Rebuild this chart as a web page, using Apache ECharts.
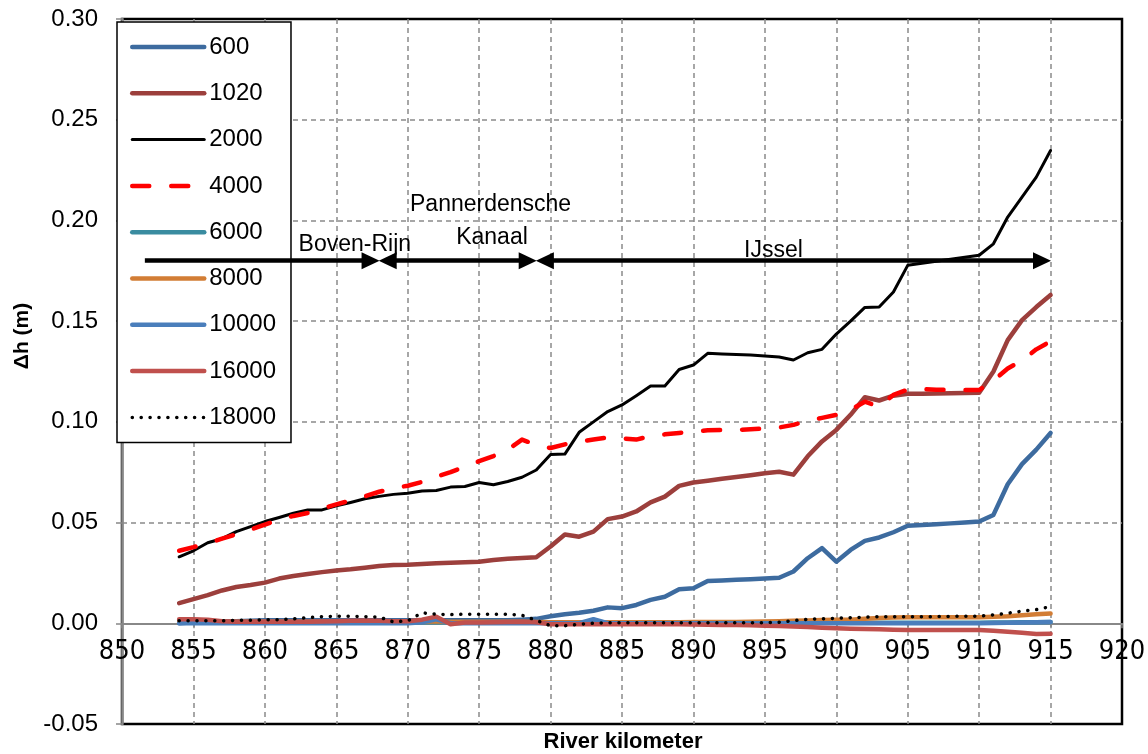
<!DOCTYPE html>
<html><head><meta charset="utf-8">
<script src="https://cdn.jsdelivr.net/npm/echarts@6/dist/echarts.min.js"></script>
<style>html,body{margin:0;padding:0;background:#fff}#c{width:1148px;height:754px}</style>
</head><body><div id="c"></div>
<script>
// River kilometer
const km = [854,855,856,857,858,859,860,861,862,863,
  864,865,866,867,868,869,870,871,872,873,
  874,875,876,877,878,879,880,881,882,883,
  884,885,886,887,888,889,890,891,892,893,
  894,895,896,897,898,899,900,901,902,903,
  904,905,906,907,908,909,910,911,912,913,
  914,915];

const s600 = [0.0000,0.0005,0.0005,0.0010,0.0010,0.0012,0.0015,0.0015,0.0015,0.0015,
  0.0015,0.0015,0.0015,0.0015,0.0015,0.0015,0.0015,0.0015,0.0015,0.0015,
  0.0015,0.0015,0.0015,0.0015,0.0018,0.0022,0.0035,0.0045,0.0052,0.0062,
  0.0079,0.0075,0.0091,0.0116,0.0132,0.0169,0.0174,0.0210,0.0213,0.0216,
  0.0219,0.0222,0.0226,0.0257,0.0323,0.0373,0.0306,0.0364,0.0409,0.0426,
  0.0452,0.0484,0.0488,0.0492,0.0496,0.0500,0.0505,0.0538,0.0690,0.0790,
  0.0862,0.0945];

const s1020 = [0.0100,0.0120,0.0140,0.0163,0.0180,0.0190,0.0202,0.0222,0.0235,0.0245,
  0.0254,0.0262,0.0268,0.0276,0.0284,0.0289,0.0290,0.0294,0.0298,0.0300,
  0.0303,0.0306,0.0314,0.0320,0.0324,0.0328,0.0381,0.0441,0.0430,0.0455,
  0.0517,0.0530,0.0555,0.0600,0.0629,0.0682,0.0699,0.0708,0.0718,0.0726,
  0.0735,0.0745,0.0752,0.0738,0.0829,0.0903,0.0960,0.1035,0.1122,0.1106,
  0.1130,0.1139,0.1140,0.1141,0.1142,0.1143,0.1145,0.1250,0.1406,0.1505,
  0.1570,0.1630];

const s2000 = [0.0330,0.0360,0.0400,0.0420,0.0455,0.0480,0.0505,0.0525,0.0546,0.0563,
  0.0563,0.0583,0.0600,0.0618,0.0630,0.0640,0.0646,0.0657,0.0659,0.0676,
  0.0679,0.0699,0.0688,0.0704,0.0725,0.0761,0.0838,0.0840,0.0948,0.1000,
  0.1051,0.1084,0.1130,0.1178,0.1178,0.1260,0.1282,0.1340,0.1337,0.1335,
  0.1332,0.1327,0.1322,0.1307,0.1343,0.1360,0.1436,0.1500,0.1568,0.1570,
  0.1645,0.1777,0.1787,0.1797,0.1807,0.1817,0.1827,0.1884,0.2017,0.2116,
  0.2215,0.2347];

const s4000 = [0.0360,0.0378,0.0398,0.0420,0.0442,0.0465,0.0490,0.0515,0.0533,0.0548,
  0.0570,0.0590,0.0610,0.0630,0.0653,0.0670,0.0683,0.0702,0.0728,0.0750,
  0.0778,0.0805,0.0830,0.0862,0.0912,0.0885,0.0870,0.0888,0.0902,0.0912,
  0.0922,0.0918,0.0912,0.0930,0.0938,0.0945,0.0952,0.0958,0.0960,0.0960,
  0.0963,0.0967,0.0972,0.0985,0.1005,0.1020,0.1035,0.1060,0.1100,0.1075,
  0.1134,0.1160,0.1162,0.1160,0.1158,0.1158,0.1158,0.1205,0.1265,0.1305,
  0.1360,0.1400];

const s6000 = [0.0005,0.0005,0.0004,0.0004,0.0005,0.0005,0.0005,0.0005,0.0005,0.0005,
  0.0005,0.0005,0.0005,0.0005,0.0005,0.0005,0.0005,0.0005,0.0006,0.0005,
  0.0005,0.0005,0.0005,0.0005,0.0005,0.0004,0.0003,0.0003,0.0003,0.0003,
  0.0003,0.0003,0.0003,0.0003,0.0003,0.0003,0.0003,0.0003,0.0003,0.0003,
  0.0003,0.0003,0.0003,0.0003,0.0003,0.0003,0.0003,0.0003,0.0003,0.0003,
  0.0003,0.0003,0.0003,0.0003,0.0003,0.0003,0.0003,0.0004,0.0004,0.0005,
  0.0005,0.0006];

const s8000 = [0.0008,0.0008,0.0008,0.0008,0.0008,0.0008,0.0008,0.0008,0.0008,0.0008,
  0.0008,0.0008,0.0008,0.0008,0.0008,0.0008,0.0008,0.0008,0.0010,0.0008,
  0.0008,0.0008,0.0008,0.0008,0.0008,0.0007,0.0005,0.0005,0.0005,0.0005,
  0.0005,0.0005,0.0005,0.0005,0.0005,0.0005,0.0006,0.0006,0.0007,0.0007,
  0.0008,0.0009,0.0010,0.0012,0.0014,0.0016,0.0017,0.0018,0.0022,0.0026,
  0.0029,0.0030,0.0030,0.0030,0.0030,0.0030,0.0030,0.0032,0.0035,0.0040,
  0.0045,0.0048];

const s10000 = [0.0000,0.0000,0.0000,0.0000,0.0000,0.0000,0.0000,0.0000,0.0000,0.0000,
  0.0000,0.0000,0.0000,0.0000,0.0000,0.0000,0.0000,0.0005,0.0020,0.0000,
  0.0000,0.0000,0.0000,0.0000,0.0000,0.0000,0.0000,0.0000,0.0000,0.0020,
  0.0000,0.0000,0.0000,0.0000,0.0000,0.0000,0.0000,0.0000,0.0000,0.0000,
  0.0000,0.0000,0.0000,0.0000,0.0000,0.0000,0.0000,0.0000,0.0000,0.0000,
  0.0000,0.0000,0.0000,0.0000,0.0000,0.0000,0.0000,0.0002,0.0003,0.0004,
  0.0005,0.0006];

const s16000 = [0.0020,0.0020,0.0018,0.0010,0.0008,0.0008,0.0008,0.0008,0.0008,0.0008,
  0.0009,0.0010,0.0012,0.0014,0.0012,0.0010,0.0010,0.0018,0.0033,-0.0005,
  0.0004,0.0004,0.0005,0.0006,0.0008,0.0005,-0.0005,-0.0005,-0.0005,-0.0005,
  -0.0005,-0.0005,-0.0005,-0.0005,-0.0005,-0.0005,-0.0006,-0.0007,-0.0008,-0.0009,
  -0.0010,-0.0012,-0.0014,-0.0016,-0.0018,-0.0022,-0.0025,-0.0027,-0.0028,-0.0030,
  -0.0032,-0.0033,-0.0033,-0.0033,-0.0033,-0.0033,-0.0033,-0.0037,-0.0042,-0.0047,
  -0.0053,-0.0052];

const s18000 = [0.0012,0.0012,0.0012,0.0012,0.0015,0.0015,0.0018,0.0018,0.0022,0.0028,
  0.0033,0.0035,0.0035,0.0033,0.0031,0.0007,0.0012,0.0052,0.0045,0.0043,
  0.0045,0.0045,0.0045,0.0045,0.0040,0.0015,-0.0012,-0.0012,-0.0005,0.0000,
  0.0002,0.0003,0.0003,0.0003,0.0003,0.0003,0.0003,0.0003,0.0003,0.0003,
  0.0003,0.0003,0.0005,0.0013,0.0020,0.0022,0.0025,0.0028,0.0030,0.0033,
  0.0033,0.0033,0.0033,0.0033,0.0034,0.0035,0.0035,0.0042,0.0050,0.0060,
  0.0068,0.0083];

const seriesNames = ['600','1020','2000','4000','6000','8000','10000','16000','18000'];
const seriesValues = [s600,s1020,s2000,s4000,s6000,s8000,s10000,s16000,s18000];
const seriesColors = ['#3D6B9F','#9C3F3C','#000000','#FF0000','#3A8CA0','#D27D35','#4A7EBB','#C0504D','#000000'];
const seriesWidths = [4.5,4.5,3,4.5,4.5,4.5,4.5,4.5,3.5];
const seriesDash = ['solid','solid','solid',[17,22],'solid','solid','solid','solid',[0.1,8.8]];

// river reach boundaries (km) and labels
const reachBounds = [851, 868, 879, 915];
const reachArrowY = 0.18;
const reachLabels = [
  {text:'Boven-Rijn', km:866.3, y:0.1882},
  {text:'Pannerdensche', km:875.8, y:0.2077},
  {text:'Kanaal', km:875.9, y:0.1912},
  {text:'IJssel', km:895.6, y:0.1852}
];
const yTicks = {min:-0.05, max:0.30, step:0.05};
const xTicks = {min:850, max:920, step:5};

const FONT = 'Liberation Sans, Arial, sans-serif';
const NARROW = 'Liberation Sans Narrow, Arial Narrow, DejaVu Sans Condensed, sans-serif';

const GRID = {left: 122, right: 26, top: 19, bottom: 30};
const plotH = 754 - GRID.top - GRID.bottom;
const zeroOffset = -plotH * (0 - yTicks.min) / (yTicks.max - yTicks.min);

const series = seriesNames.map((n, i) => ({
  name: n,
  type: 'line',
  data: km.map((k, j) => [k, seriesValues[i][j]]),
  symbol: 'none',
  showSymbol: false,
  animation: false,
  silent: true,
  lineStyle: {color: seriesColors[i], width: seriesWidths[i], type: seriesDash[i], cap: 'round', join: 'round'},
  itemStyle: {color: seriesColors[i]},
  z: 3
}));

const headLen = 0.6; // km offset for arrow heads
const arrowPairs = [];
for (let i = 0; i < reachBounds.length - 1; i++) {
  const a = reachBounds[i], b = reachBounds[i + 1];
  arrowPairs.push([
    {coord: [a + headLen, reachArrowY], symbol: i === 0 ? 'none' : 'triangle'},
    {coord: [b - headLen, reachArrowY], symbol: 'triangle'}
  ]);
}

series.push({
  name: 'reaches',
  type: 'line',
  data: [],
  silent: true,
  animation: false,
  markLine: {
    silent: true,
    animation: false,
    symbolSize: [17, 18],
    label: {show: false},
    lineStyle: {color: '#000', width: 4.5, type: 'solid'},
    emphasis: {disabled: true},
    data: arrowPairs
  },
  markPoint: {
    silent: true,
    animation: false,
    symbol: 'circle',
    symbolSize: 0,
    itemStyle: {color: 'rgba(0,0,0,0)'},
    label: {show: true, position: 'inside', color: '#000', fontSize: 23, fontFamily: FONT,
            formatter: p => p.name},
    data: reachLabels.map(l => ({name: l.text, coord: [l.km, l.y]}))
  },
  z: 2
});

const chart = echarts.init(document.getElementById('c'), null, {renderer: 'canvas'});
chart.setOption({
  animation: false,
  backgroundColor: '#fff',
  grid: Object.assign({show: true, borderColor: '#000', borderWidth: 2.5, backgroundColor: 'rgba(0,0,0,0)',
                       containLabel: false, outerBoundsMode: 'none'}, GRID),
  xAxis: {
    type: 'value', min: xTicks.min, max: xTicks.max, interval: xTicks.step,
    offset: zeroOffset,
    axisLine: {show: true, onZero: false, lineStyle: {color: '#888', width: 2}},
    axisTick: {show: true, length: 5, lineStyle: {color: '#888', width: 1.5}},
    axisLabel: {fontSize: 27, fontFamily: NARROW, color: '#000', margin: 15},
    splitLine: {show: true, showMinLine: false, showMaxLine: false,
                lineStyle: {color: '#8a8a8a', width: 1.5, type: [5, 4]}}
  },
  yAxis: {
    type: 'value', min: yTicks.min, max: yTicks.max, interval: yTicks.step,
    axisLine: {show: true, onZero: false, lineStyle: {color: '#888', width: 2.5}},
    axisTick: {show: true, length: 6, lineStyle: {color: '#888', width: 1.5}},
    axisLabel: {fontSize: 24, fontFamily: FONT, color: '#000', margin: 24, formatter: v => v.toFixed(2)},
    splitLine: {show: true, showMinLine: false, showMaxLine: false,
                lineStyle: {color: '#8a8a8a', width: 1.5, type: [5, 4]}}
  },
  legend: {
    orient: 'vertical', left: 117, top: 22,
    itemWidth: 72, itemHeight: 24, itemGap: 22.3,
    padding: [13, 15, 13, 13],
    backgroundColor: '#fff', borderColor: '#000', borderWidth: 1.5, borderRadius: 0,
    selectedMode: false,
    textStyle: {fontSize: 24, fontFamily: FONT, color: '#000'},
    lineStyle: {width: 'inherit', type: 'inherit', cap: 'round'},
    data: seriesNames.map((n, i) => ({
      name: n,
      itemStyle: {opacity: 0},
      lineStyle: {color: seriesColors[i], width: seriesWidths[i], type: seriesDash[i], cap: 'round', opacity: 1}
    }))
  },
  graphic: [
    {type: 'text', x: 22, y: 336, rotation: Math.PI / 2, silent: true,
     style: {text: 'Δh (m)', font: 'bold 21px ' + FONT, fill: '#000', align: 'center', verticalAlign: 'middle'}},
    {type: 'text', x: 623, y: 742, silent: true,
     style: {text: 'River kilometer', font: 'bold 22px ' + FONT, fill: '#000', align: 'center', verticalAlign: 'middle'}}
  ],
  series: series
});
</script>
</body></html>
